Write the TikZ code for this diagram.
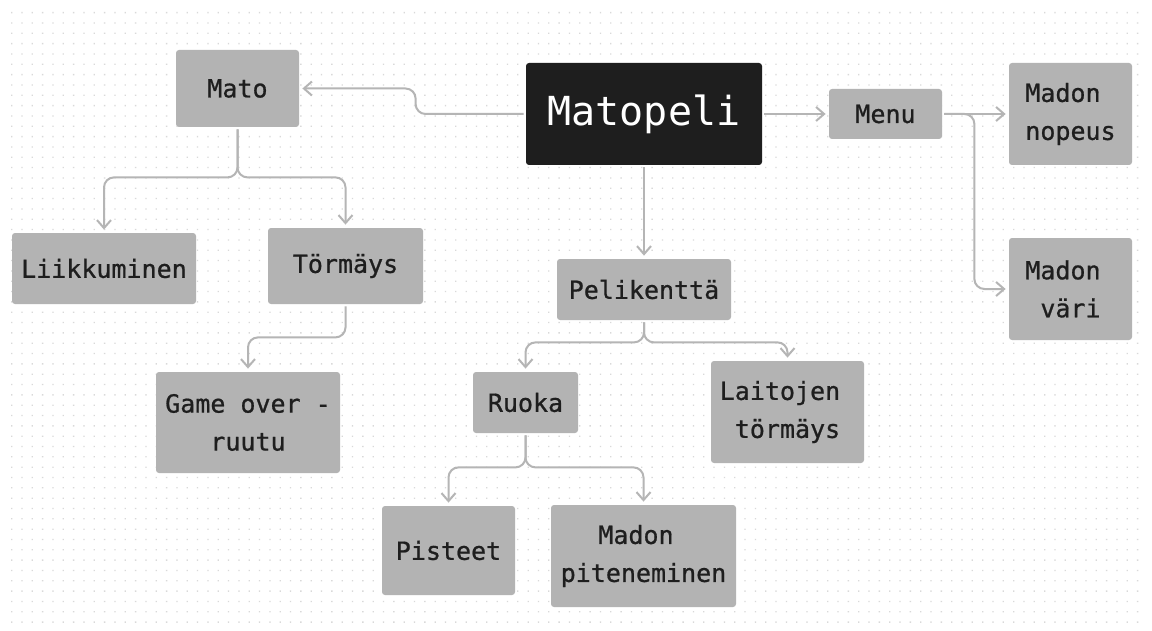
\documentclass[tikz,border=0pt]{standalone}
\usepackage{fontspec}
\setmonofont{DejaVu Sans Mono}
\newfontfamily\boxfont[FakeBold=0.8]{DejaVu Sans Mono}
\usepackage{tikz}
\usetikzlibrary{arrows.meta}
\definecolor{boxgray}{HTML}{B3B3B3}
\definecolor{inkcol}{HTML}{1E1E1E}
\definecolor{linkcol}{HTML}{B5B5B5}
\definecolor{dotcol}{HTML}{D9D9D9}

\begin{document}
\begin{tikzpicture}[x=0.5pt,y=-0.5pt,
    >={Straight Barb[length=4pt,width=7pt]},
    box/.style={fill=boxgray,text=inkcol,rounded corners=1.5pt,inner sep=0pt,align=center,
        font=\boxfont\fontsize{12.5}{19}\selectfont},
    link/.style={draw=linkcol,line width=1pt,rounded corners=5pt,shorten >=1.5pt,shorten <=1pt}]
            \useasboundingbox (0,0) rectangle (1152,631);
            \fill[white] (0,0) rectangle (1152,631);
            \foreach \j in {0,...,59}
                \fill[dotcol] \foreach \i in {0,...,109} {(11+10.33*\i,12+10.33*\j) rectangle ++(1.3,1.3)};

            \node[box,fill=inkcol,text=white,minimum width=118pt,minimum height=51pt,font=\ttfamily\fontsize{20}{24}\selectfont] (0) at (644,114) {Matopeli};
            \node[box,minimum width=61.5pt,minimum height=38.5pt] (1) at (237.5,88.5) {Mato};
            \node[box,minimum width=56.5pt,minimum height=25pt] (2) at (885.5,114) {Menu};
            \node[box,minimum width=61.5pt,minimum height=51pt] (3) at (1070.5,114) {Madon\hphantom{n}\\nopeus};
            \node[box,minimum width=61.5pt,minimum height=51pt] (4) at (1070.5,289) {Madon\hphantom{n}\\väri};
            \node[box,minimum width=92pt,minimum height=35.5pt] (5) at (104,268.5) {Liikkuminen};
            \node[box,minimum width=77.5pt,minimum height=38pt] (6) at (345.5,266) {Törmäys};
            \node[box,minimum width=92pt,minimum height=50.5pt] (7) at (248,422.5) {Game over -\\ruutu};
            \node[box,minimum width=87pt,minimum height=30.5pt] (8) at (644,289.5) {Pelikenttä};
            \node[box,minimum width=52.5pt,minimum height=30.5pt] (9) at (525.5,402.5) {Ruoka};
            \node[box,minimum width=76.5pt,minimum height=51pt] (10) at (787.5,412) {Laitojen\hphantom{n}\\törmäys};
            \node[box,minimum width=66.5pt,minimum height=44.5pt] (11) at (448.5,550.5) {Pisteet};
            \node[box,minimum width=92.5pt,minimum height=51pt] (12) at (643.5,556) {Madon\hphantom{n}\\piteneminen};

            \draw[link,->] (0.west) -- ++(-110,0) |- (1.east);
            \draw[link,->] (0.east) -- (2.west);
            \draw[link,->] (2.east) -- (3.west);
            \draw[link,->] (2.east) -- ++(32,0) |- (4.west);
            \draw[link,->] (1.south) -- ++(0,50) -| (5.north);
            \draw[link,->] (1.south) -- ++(0,50) -| (6.north);
            \draw[link,->] (6.south) -- ++(0,33) -| (7.north);
            \draw[link,->] (0.south) -- (8.north);
            \draw[link,->] (8.south) -- ++(0,22) -| (9.north);
            \draw[link,->] (8.south) -- ++(0,22) -| (10.north);
            \draw[link,->] (9.south) -- ++(0,34) -| (11.north);
            \draw[link,->] (9.south) -- ++(0,34) -| (12.north);
        \end{tikzpicture}
\end{document}
